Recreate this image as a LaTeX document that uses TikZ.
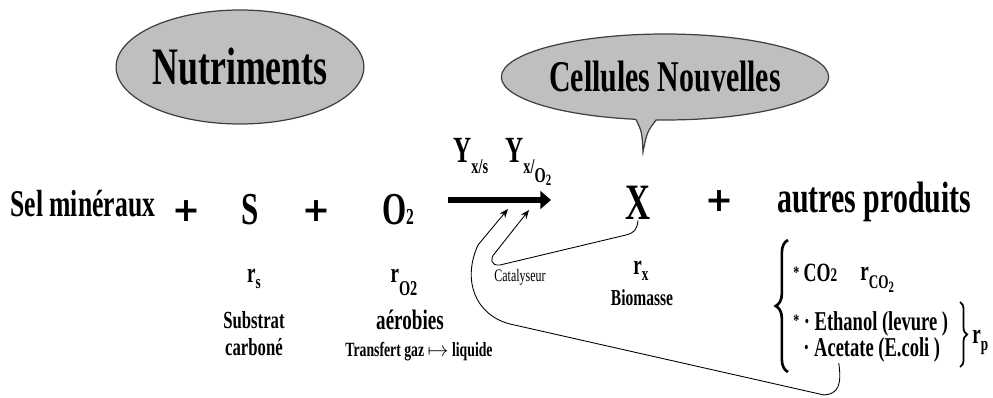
\documentclass[tikz,border=0pt]{standalone}
\usepackage{fontspec}
\setmainfont{Liberation Serif}[FakeStretch=0.68]
\newfontfamily\plusfont{DejaVu Sans}
\usetikzlibrary{shapes.geometric, decorations.pathreplacing, arrows.meta}

% indice abaisse : \indice{abaissement}{taille}{texte}
\newcommand{\indice}[3]{\raisebox{-#1}{\fontsize{#2}{#2}\selectfont #3}}

\begin{document}
\begin{tikzpicture}[x=0.02cm, y=-0.02cm,
  taille/.style={inner sep=0pt, font=\fontsize{#1}{#1}\selectfont\bfseries},
  plus/.style={inner sep=0pt, font=\fontsize{19}{19}\plusfont\bfseries},
  bulle/.style={ellipse, draw=black!75, fill=black!25, line width=0.7pt, inner sep=0pt},
  lien/.style={-{Stealth[length=5pt, width=4pt]}, line width=0.5pt}]
  \useasboundingbox (0,0) rectangle (993,398);

  % Bulles
  \node[bulle, minimum width=4.88cm, minimum height=2.28cm, taille=30] (nutri) at (240,67) {Nutriments};
  \node[bulle, minimum width=5.8cm, minimum height=1.72cm, taille=25] (cellules) at (665,77) {Cellules Nouvelles};
  \fill[black!25] (633,114) -- (636,119) .. controls (642,132) .. (643,152) .. controls (647,132) .. (657,119) -- (660,114) -- cycle;
  \draw[black!75, line width=0.7pt] (636,119.5) .. controls (642,132) .. (643,152) .. controls (647,132) .. (656.5,119.5);

  % Equation
  \node[taille=21.5, anchor=base west] (sel) at (10,217) {Sel minéraux};
  \node[plus] (plusA) at (186,211) {+};
  \node[taille=26, anchor=base] (S) at (250,225) {S};
  \node[plus] (plusB) at (316,211) {+};
  \node[taille=26, anchor=base] (O2) at (398,225) {O\indice{0pt}{13}{2}};
  \coordinate (f1) at (448,200);
  \coordinate (f2) at (551,200);
  \draw[line width=3.6pt, -{Triangle[length=6pt, width=10pt]}] (f1) -- (f2);
  \node[taille=21, anchor=base west] (yxs) at (453,163) {Y\indice{6pt}{12}{x/s}};
  \node[taille=21, anchor=base west] (yxo) at (505,163) {Y\indice{6pt}{12}{x/\indice{5pt}{12}{O\indice{2pt}{9}{2}}}};
  \node[taille=29, anchor=base] (X) at (638,220) {X};
  \node[plus] (plusC) at (719,201) {+};
  \node[taille=25, anchor=base west] (autres) at (777,213) {autres produits};

  % Sous l'equation
  \node[taille=16, anchor=base] (rs) at (254,283) {r\indice{3pt}{11}{s}};
  \node[taille=14, anchor=base] (substrat) at (254,328) {Substrat};
  \node[taille=14, anchor=base] (carbone) at (254,355) {carboné};
  \node[taille=16, anchor=base] (ro2) at (404,283) {r\indice{7pt}{12}{O2}};
  \node[taille=16, anchor=base] (aerobies) at (410,329) {aérobies};
  \node[taille=11.5, anchor=base] (transfert) at (419,356) {Transfert gaz \(\mapsto\) liquide};
  \node[inner sep=0pt, font=\fontsize{10}{10}\selectfont, anchor=base] (catal) at (520,282) {Catalyseur};
  \node[taille=16, anchor=base] (rx) at (641,275) {r\indice{3pt}{11}{x}};
  \node[taille=13, anchor=base] (biomasse) at (642,305) {Biomasse};

  % Autres produits
  \draw[decorate, decoration={brace, amplitude=7pt}, line width=1.5pt] (788,372) -- (788,240);
  \node[taille=15, anchor=base west] (co2) at (793,282) {\raisebox{2pt}{\fontsize{10}{10}\selectfont *}\,CO\indice{0pt}{11}{2}};
  \node[taille=16, anchor=base west] (rco2) at (860,280) {r\indice{5pt}{11}{CO\indice{2pt}{9}{2}}};
  \node[taille=15.5, anchor=base west] (ethanol) at (793,330) {\raisebox{2pt}{\fontsize{10}{10}\selectfont *}\,· Ethanol (levure )};
  \node[taille=15.5, anchor=base west] (acetate) at (803,357) {· Acetate (E.coli )};
  \draw[decorate, decoration={brace, amplitude=4pt}, line width=1pt] (960,302) -- (960,367);
  \node[taille=16, anchor=base west] (rp) at (972,343) {r\indice{4pt}{11}{p}};

  % Liens
  \coordinate (pointeA) at (508,209);
  \coordinate (pointeB) at (529,210);
  \draw[lien] (X.south) .. controls (637,230) and (634,233) .. (626,235) -- (500,265) .. controls (490,266) and (490,258) .. (495,253) -- (pointeB);
  \draw[lien] ([xshift=-0.66cm]acetate.south) .. controls (842,385) and (838,394) .. (824,395) -- (510,324) .. controls (475,315) and (462,280) .. (478,245) -- (pointeA);
\end{tikzpicture}
\end{document}
